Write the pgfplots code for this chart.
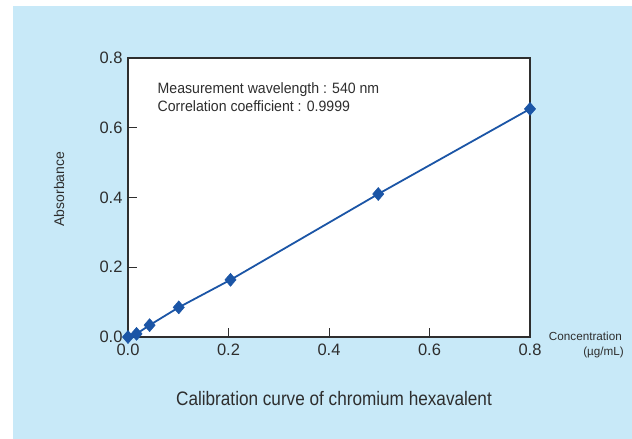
\documentclass[border=0pt]{standalone}
\usepackage{fontspec}
\setmainfont{Liberation Sans}
\usepackage{graphicx}
\usepackage{pgfplots}
\pgfplotsset{compat=1.18}
\definecolor{bg}{HTML}{C8E9F8}
\definecolor{txt}{HTML}{2E2E2E}
\definecolor{lineblue}{HTML}{1B55A6}
\begin{document}
\begin{tikzpicture}[x=1bp,y=1bp]
\fill[white] (0,0) rectangle (632,-439);
\fill[bg] (13,-6) rectangle (632,-439);
\begin{axis}[
 scale only axis, width=402bp, height=279bp,
 anchor=south west, at={(128bp,-337bp)},
 xmin=0,xmax=0.8,ymin=0,ymax=0.8,
 xtick={0,0.2,0.4,0.6,0.8}, ytick={0,0.2,0.4,0.6,0.8},
 tick align=inside, tick pos=left, major tick length=9bp,
 axis background/.style={fill=white},
 axis line style={txt, line width=1.2bp},
 tick style={txt, line width=0.9bp},
 xticklabel style={font=\fontsize{16.5bp}{19bp}\selectfont, text=txt, yshift=-3bp},
 yticklabel style={font=\fontsize{16.5bp}{19bp}\selectfont, text=txt, xshift=-2bp},
 /pgf/number format/fixed, /pgf/number format/fixed zerofill, /pgf/number format/precision=1,
 /pgf/number format/assume math mode=true,
 clip=false,
]
\addplot[lineblue, line width=1.8bp, mark=diamond*, mark size=6.5bp, mark options={fill=lineblue, draw=lineblue, line width=0.5bp, xscale=1.15}] coordinates {
(0,0) (0.017,0.009) (0.043,0.034) (0.101,0.085) (0.204,0.164) (0.498,0.41) (0.8,0.654)
};
\end{axis}
\node[anchor=base west, font=\fontsize{15bp}{17bp}\selectfont, text=txt, inner sep=0] at (157.5,-93.3) {\scalebox{0.94}[1]{Measurement wavelength : 540 nm}};
\node[anchor=base west, font=\fontsize{15bp}{17bp}\selectfont, text=txt, inner sep=0] at (157.5,-111.7) {\scalebox{0.94}[1]{Correlation coefficient : 0.9999}};
\node[anchor=base, font=\fontsize{19.5bp}{22bp}\selectfont, text=txt, inner sep=0] at (334,-405.7) {\scalebox{0.88}[1]{Calibration curve of chromium hexavalent}};
\node[rotate=90, font=\fontsize{14bp}{16bp}\selectfont, text=txt, inner sep=0] at (59,-189) {Absorbance};
\node[anchor=base east, font=\fontsize{11.7bp}{14bp}\selectfont, text=txt, inner sep=0] at (622,-340.7) {Concentration};
\node[anchor=base east, font=\fontsize{11.7bp}{14bp}\selectfont, text=txt, inner sep=0] at (624,-355) {(µg/mL)};
\end{tikzpicture}
\end{document}
